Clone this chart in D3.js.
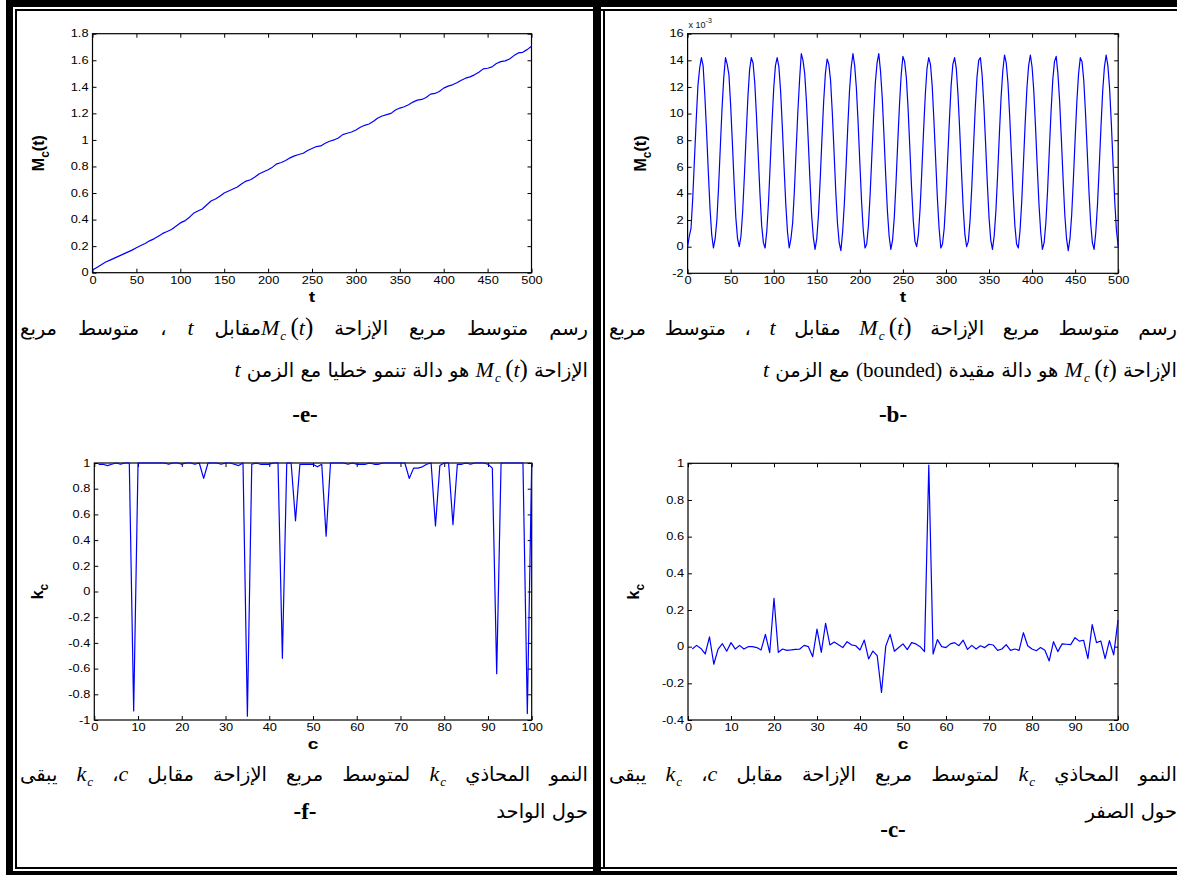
<!DOCTYPE html>
<html>
<head>
<meta charset="utf-8">
<script src="https://cdn.jsdelivr.net/npm/d3@7"></script>
<style>
  html, body { margin: 0; padding: 0; background: #fff; overflow: hidden; }
  #page { position: relative; width: 1177px; height: 875px; overflow: hidden; background: #fff; }
  #page svg { position: absolute; left: 0; top: 0; }
  .cap { position: absolute; direction: rtl; font-family: "DejaVu Sans", sans-serif; font-size: 19.5px; color: #000; }
  .cap .j { text-align: justify; text-align-last: justify; white-space: nowrap; }
  .cap .r { text-align: right; white-space: nowrap; }
  .m { font-family: "Liberation Serif", serif; font-style: italic; font-size: 22px; direction: ltr; unicode-bidi: isolate; display: inline-block; }
  .m sub { font-size: 13px; vertical-align: -5px; margin-left: 1px; }
  .m .p { font-style: normal; font-size: 25px; }
  .lat { font-family: "Liberation Serif", serif; font-size: 21px; direction: ltr; unicode-bidi: isolate; }
  .tag { position: absolute; font-family: "Liberation Serif", serif; font-weight: bold; font-size: 23px; line-height: 24px; transform: translateX(-50%); white-space: nowrap; }
</style>
</head>
<body>
<div id="page"></div>
<script>
// ---------- data ----------
// mean square displacement, linear growth (t = 0, 5, ..., 500)
const tLinear = d3.range(0, 501, 5);
const msdLinear = [
  0.02, 0.04, 0.06, 0.08, 0.095, 0.11, 0.125, 0.14, 0.155, 0.17,
  0.188, 0.205, 0.22, 0.24, 0.255, 0.275, 0.296, 0.31, 0.325, 0.35,
  0.375, 0.39, 0.415, 0.447, 0.465, 0.48, 0.51, 0.54, 0.555, 0.575,
  0.60, 0.615, 0.63, 0.645, 0.67, 0.69, 0.70, 0.72, 0.745, 0.76,
  0.775, 0.795, 0.82, 0.83, 0.845, 0.865, 0.88, 0.89, 0.90, 0.92,
  0.935, 0.95, 0.955, 0.975, 0.99, 1.00, 1.015, 1.04, 1.05, 1.06,
  1.075, 1.095, 1.11, 1.12, 1.14, 1.165, 1.18, 1.19, 1.20, 1.225,
  1.24, 1.25, 1.265, 1.285, 1.30, 1.305, 1.32, 1.345, 1.35, 1.365,
  1.39, 1.405, 1.415, 1.43, 1.45, 1.465, 1.475, 1.49, 1.51, 1.535,
  1.54, 1.55, 1.575, 1.59, 1.595, 1.61, 1.635, 1.655, 1.66, 1.68,
  1.705
];

// mean square displacement, bounded case, in units of 1e-3 (t = 0, 2, ..., 500)
const tBounded = d3.range(0, 501, 2);
const msdBounded = [
  0.0, 0.8, 1.4, 3.7, 6.6, 9.5, 12.1, 13.4, 14.2, 13.6, 11.4, 8.7, 5.7, 2.9, 0.9,
  -0.1, 0.6, 2.0, 4.5, 7.5, 10.4, 12.7, 14.2, 13.7, 12.9, 10.6, 7.8, 4.8, 2.2, 0.6,
  0.0, 0.8, 2.7, 5.4, 8.4, 11.2, 13.3, 14.2, 13.8, 12.3, 9.8, 6.9, 4.0, 1.6, 0.3,
  -0.1, 1.2, 3.4, 6.3, 9.3, 11.9, 13.6, 14.2, 13.5, 11.7, 9.0, 6.0, 3.2, 1.1, -0.1,
  0.6, 1.8, 4.2, 7.2, 10.1, 12.5, 14.5, 14.0, 13.0, 10.9, 8.1, 5.1, 2.4, 0.7, -0.2,
  0.6, 2.4, 5.1, 8.1, 10.9, 13.0, 14.1, 13.7, 12.5, 10.1, 7.2, 4.2, 1.8, 0.3, -0.3,
  1.1, 3.2, 6.0, 9.0, 11.7, 13.5, 14.5, 13.6, 11.9, 9.3, 6.3, 3.4, 1.2, -0.1, 0.2,
  1.6, 4.0, 6.9, 9.8, 12.3, 13.8, 14.5, 13.2, 11.2, 8.4, 5.4, 2.7, 0.8, -0.2, 0.5,
  2.2, 4.8, 7.8, 10.6, 12.9, 14.3, 13.9, 12.7, 10.4, 7.5, 4.5, 2.0, 0.4, 0.0, 0.9,
  2.9, 5.7, 8.7, 11.4, 13.4, 14.2, 13.7, 12.1, 9.5, 6.6, 3.7, 1.4, -0.1, 0.2, 1.4,
  3.7, 6.6, 9.5, 12.1, 13.7, 14.2, 13.4, 11.4, 8.7, 5.7, 2.9, 0.9, 0.0, 0.4, 2.0,
  4.5, 7.5, 10.4, 12.7, 14.0, 14.2, 12.9, 10.6, 7.8, 4.8, 2.2, 0.5, -0.2, 0.8, 2.7,
  5.4, 8.4, 11.2, 13.2, 14.4, 13.8, 12.3, 9.8, 6.9, 4.0, 1.6, 0.2, -0.1, 1.2, 3.4,
  6.3, 9.3, 11.9, 13.6, 14.4, 13.5, 11.7, 9.0, 6.0, 3.2, 1.1, -0.2, 0.3, 1.8, 4.2,
  7.2, 10.1, 12.5, 13.9, 14.3, 13.0, 10.9, 8.1, 5.1, 2.4, 0.6, -0.3, 0.6, 2.4, 5.1,
  8.1, 10.9, 13.0, 14.2, 13.9, 12.5, 10.1, 7.2, 4.2, 1.8, 0.3, -0.2, 1.1, 3.2, 6.0,
  9.0, 11.7, 13.5, 14.4, 13.6, 11.9, 9.3, 6.3, 3.4, 1.2, 0.0
];

// anomalous growth exponent k_c against c = 1..100
const cIndex = d3.range(1, 101);
const kcNearOne = [
  0.99, 0.99, 0.98, 0.99, 1.0, 0.99, 1.0, 1.0, -0.93, 1.0,
  1.0, 1.0, 1.0, 1.0, 1.0, 1.0, 0.99, 1.0, 1.0, 0.99,
  1.0, 1.0, 0.99, 1.0, 0.88, 1.0, 1.0, 1.0, 0.99, 1.0,
  1.0, 0.99, 0.98, 1.0, -0.97, 0.99, 1.0, 0.99, 0.99, 0.99,
  1.0, 1.0, -0.52, 1.0, 1.0, 0.55, 0.99, 0.99, 0.99, 0.99,
  0.97, 0.99, 0.43, 1.0, 1.0, 1.0, 1.0, 0.99, 1.0, 0.99,
  0.99, 0.99, 1.0, 0.99, 0.99, 1.0, 1.0, 1.0, 1.0, 1.0,
  1.0, 0.88, 0.96, 0.96, 0.97, 0.99, 1.0, 0.51, 0.98, 1.0,
  1.0, 0.52, 0.99, 0.99, 1.0, 0.99, 1.0, 1.0, 1.0, 0.99,
  0.96, -0.64, 1.0, 1.0, 1.0, 1.0, 1.0, 1.0, -0.95, 1.0
];
const kcNearZero = [
  -0.013, 0.007, -0.01, -0.04, 0.053, -0.096, -0.013, 0.016, -0.025, 0.022,
  -0.013, 0.007, -0.013, 0.0, 0.0, -0.005, -0.018, 0.067, -0.033, 0.264,
  -0.031, -0.013, -0.02, -0.018, -0.015, -0.013, 0.007, 0.0, -0.055, 0.096,
  -0.031, 0.127, 0.009, 0.025, 0.01, -0.005, 0.027, 0.01, 0.005, -0.018,
  0.036, -0.067, -0.024, -0.049, -0.25, 0.004, 0.067, -0.025, -0.005, 0.015,
  -0.016, 0.022, 0.015, 0.0, -0.027, 0.99, -0.04, 0.038, 0.0, -0.005,
  0.015, 0.022, 0.005, 0.035, -0.015, 0.007, -0.013, 0.005, -0.005, 0.013,
  0.009, -0.02, -0.013, 0.011, -0.02, -0.013, -0.02, 0.076, 0.005, -0.013,
  -0.022, -0.005, -0.02, -0.078, 0.027, -0.027, 0.015, 0.013, 0.011, 0.049,
  0.03, 0.035, -0.065, 0.12, 0.022, 0.031, -0.065, 0.033, -0.045, 0.145
];

// tick values
const ticksT = [0, 50, 100, 150, 200, 250, 300, 350, 400, 450, 500];
const ticksMsdLinear = [0, 0.2, 0.4, 0.6, 0.8, 1, 1.2, 1.4, 1.6, 1.8];
const ticksMsdBounded = [-2, 0, 2, 4, 6, 8, 10, 12, 14, 16];
const ticksC = [0, 10, 20, 30, 40, 50, 60, 70, 80, 90, 100];
const ticksKcOne = [-1, -0.8, -0.6, -0.4, -0.2, 0, 0.2, 0.4, 0.6, 0.8, 1];
const ticksKcZero = [-0.4, -0.2, 0, 0.2, 0.4, 0.6, 0.8, 1];

// ---------- page ----------
const W = 1177, H = 875;
const page = d3.select("#page");
const svg = page.append("svg").attr("width", W).attr("height", H);

// table frame: thick/thin double rules
const rules = [
  [6, 0, W - 6, 7],      // top thick
  [15, 9, W - 15, 2],    // top thin
  [6, 0, 7, H],          // left thick
  [15, 9, 2, 860],       // left thin
  [593, 0, 8, H],        // middle thick
  [603, 9, 2, 860],      // middle thin
  [15, 867, W - 15, 2],  // bottom thin
  [6, 871, W - 6, 4]     // bottom thick
];
svg.append("g").selectAll("rect").data(rules).join("rect")
  .attr("x", d => d[0]).attr("y", d => d[1])
  .attr("width", d => d[2]).attr("height", d => d[3])
  .attr("fill", "#000");

const SX = 1.28; // horizontal stretch of the axis lettering
const fmt = d => String(+(+d).toFixed(2));

function panel(cfg) {
  const g = svg.append("g");
  const x = d3.scaleLinear().domain(cfg.xDomain).range([cfg.left, cfg.right]);
  const y = d3.scaleLinear().domain(cfg.yDomain).range([cfg.bottom, cfg.top]);

  // box
  g.append("rect")
    .attr("x", cfg.left).attr("y", cfg.top)
    .attr("width", cfg.right - cfg.left).attr("height", cfg.bottom - cfg.top)
    .attr("fill", "none").attr("stroke", "#000").attr("stroke-width", 1.2);

  const styleTicks = (sel) => {
    sel.select(".domain").remove();
    sel.selectAll(".tick line").attr("stroke", "#000");
    sel.selectAll(".tick text")
      .attr("font-family", "Liberation Sans, Arial, sans-serif")
      .attr("font-size", 10)
      .attr("fill", "#000");
  };

  const bottom = g.append("g").attr("transform", `translate(0,${cfg.bottom})`)
    .call(d3.axisBottom(x).tickValues(cfg.xTicks).tickSize(-4).tickPadding(4).tickFormat(fmt));
  styleTicks(bottom);
  bottom.selectAll(".tick text").attr("transform", `scale(${SX},1)`);

  const left = g.append("g").attr("transform", `translate(${cfg.left},0)`)
    .call(d3.axisLeft(y).tickValues(cfg.yTicks).tickSize(-4).tickPadding(4).tickFormat(fmt));
  styleTicks(left);
  left.selectAll(".tick text").attr("x", -4 / SX).attr("transform", `scale(${SX},1)`);

  const top = g.append("g").attr("transform", `translate(0,${cfg.top})`)
    .call(d3.axisTop(x).tickValues(cfg.xTicks).tickSize(-4).tickFormat(""));
  styleTicks(top);
  const right = g.append("g").attr("transform", `translate(${cfg.right},0)`)
    .call(d3.axisRight(y).tickValues(cfg.yTicks).tickSize(-4).tickFormat(""));
  styleTicks(right);

  // data line
  const pts = cfg.xs.map((v, i) => [v, cfg.ys[i]]);
  g.append("path").datum(pts)
    .attr("d", d3.line().x(d => x(d[0])).y(d => y(d[1])))
    .attr("fill", "none").attr("stroke", "#0000ff").attr("stroke-width", 1.2)
    .attr("stroke-linejoin", "round");

  // x label
  g.append("text")
    .attr("transform", `translate(${(cfg.left + cfg.right) / 2},${cfg.bottom + 29}) scale(${SX},1)`)
    .attr("text-anchor", "middle")
    .attr("font-family", "Liberation Sans, Arial, sans-serif")
    .attr("font-weight", "bold").attr("font-size", 15)
    .text(cfg.xLabel);

  // y label with subscript
  const yl = g.append("text")
    .attr("transform", `translate(${cfg.yLabelX},${(cfg.top + cfg.bottom) / 2}) rotate(-90)`)
    .attr("text-anchor", "middle")
    .attr("font-family", "Liberation Sans, Arial, sans-serif")
    .attr("font-weight", "bold").attr("font-size", 16);
  yl.append("tspan").text(cfg.yLabel[0]);
  yl.append("tspan").attr("dy", 5).attr("font-size", 12).text(cfg.yLabel[1]);
  if (cfg.yLabel[2]) yl.append("tspan").attr("dy", -5).text(cfg.yLabel[2]);

  if (cfg.exponent) {
    const ex = g.append("text")
      .attr("x", cfg.left + 1).attr("y", cfg.top - 6)
      .attr("font-family", "Liberation Sans, Arial, sans-serif")
      .attr("font-size", 9).attr("fill", "#111");
    ex.append("tspan").text("x 10");
    ex.append("tspan").attr("dy", -5).attr("font-size", 7).text(cfg.exponent);
  }
}

panel({
  left: 92.5, right: 531.5, top: 33.7, bottom: 272.7,
  xDomain: [0, 500], yDomain: [0, 1.8], xTicks: ticksT, yTicks: ticksMsdLinear,
  xs: tLinear, ys: msdLinear, xLabel: "t", yLabel: ["M", "c", "(t)"], yLabelX: 44
});
panel({
  left: 687.6, right: 1118.2, top: 33.7, bottom: 273.3,
  xDomain: [0, 500], yDomain: [-2, 16], xTicks: ticksT, yTicks: ticksMsdBounded,
  xs: tBounded, ys: msdBounded, xLabel: "t", yLabel: ["M", "c", "(t)"], yLabelX: 646,
  exponent: "-3"
});
panel({
  left: 94.3, right: 531.7, top: 463, bottom: 720,
  xDomain: [0, 100], yDomain: [-1, 1], xTicks: ticksC, yTicks: ticksKcOne,
  xs: cIndex, ys: kcNearOne, xLabel: "c", yLabel: ["k", "c"], yLabelX: 43
});
panel({
  left: 688, right: 1118, top: 463.3, bottom: 720,
  xDomain: [0, 100], yDomain: [-0.4, 1], xTicks: ticksC, yTicks: ticksKcZero,
  xs: cIndex, ys: kcNearZero, xLabel: "c", yLabel: ["k", "c"], yLabelX: 639
});

// ---------- captions ----------
const Mct = '<span class="m">M<sub>c</sub>&#8201;<span class="p">(</span>t<span class="p">)</span></span>';
const kc = '<span class="m">k<sub>c</sub></span>';
const it = s => `<span class="m">${s}</span>`;

const captions = [
  { left: 20, top: 310, width: 568, lh: 33, lines: [
    `رسم متوسط مربع الإزاحة ${Mct}مقابل ${it("t")} ، متوسط مربع`,
    `الإزاحة ${Mct}  هو دالة تنمو خطيا مع الزمن  ${it("t")}`
  ]},
  { left: 609, top: 310, width: 568, lh: 33, lines: [
    `رسم متوسط مربع الإزاحة ${Mct} مقابل ${it("t")} ، متوسط مربع`,
    `الإزاحة ${Mct}  هو دالة مقيدة <span class="lat">(bounded)</span> مع الزمن  ${it("t")}`
  ]},
  { left: 20, top: 759, width: 568, lh: 30, lines: [
    `النمو المحاذي ${kc} لمتوسط مربع الإزاحة مقابل ${it("c")}، ${kc} يبقى`,
    `حول الواحد`
  ]},
  { left: 609, top: 759, width: 568, lh: 30, lines: [
    `النمو المحاذي ${kc} لمتوسط مربع الإزاحة مقابل ${it("c")}، ${kc} يبقى`,
    `حول الصفر`
  ]}
];

captions.forEach(c => {
  const box = page.append("div").attr("class", "cap")
    .style("left", c.left + "px").style("top", c.top + "px")
    .style("width", c.width + "px").style("line-height", c.lh + "px");
  box.append("div").attr("class", "j").html(c.lines[0]);
  box.append("div").attr("class", "r").html(c.lines[1]);
});

const tags = [
  { text: "-e-", x: 305, y: 415 },
  { text: "-b-", x: 893, y: 415 },
  { text: "-f-", x: 305, y: 812 },
  { text: "-c-", x: 893, y: 830 }
];
page.selectAll("div.tag").data(tags).join("div").attr("class", "tag")
  .style("left", d => d.x + "px").style("top", d => (d.y - 12) + "px")
  .text(d => d.text);
</script>
</body>
</html>
